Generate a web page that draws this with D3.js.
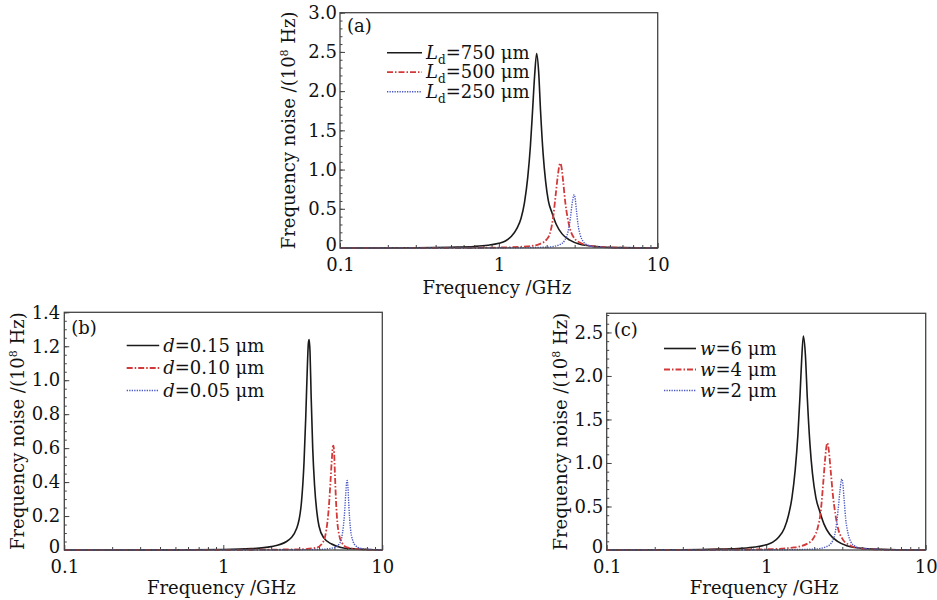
<!DOCTYPE html>
<html>
<head>
<meta charset="utf-8">
<title>Frequency noise spectra</title>
<script src="https://d3js.org/d3.v7.min.js"></script>
<style>
  body { margin: 0; background: #fff; }
  text { font-family: "DejaVu Serif", "Liberation Serif", serif; fill: #111; }
  .frame { fill: none; stroke: #444; stroke-width: 1.3; }
  .tick line { stroke: #444; }
</style>
</head>
<body>
<svg width="937" height="600"></svg>
<script>
// ---- data: [frequency GHz, noise 1e8 Hz] ----
var ld750 = [[0.1,0],[0.3,0.003],[0.5,0.01],[0.7,0.02],[0.85,0.035],[1.0,0.06],[1.1,0.09],[1.2,0.15],[1.3,0.25],[1.38,0.38],[1.45,0.58],[1.52,0.9],[1.58,1.3],[1.63,1.75],[1.68,2.2],[1.73,2.48],[1.78,2.25],[1.83,1.75],[1.9,1.2],[1.97,0.85],[2.05,0.6],[2.16,0.45],[2.3,0.3],[2.5,0.18],[2.8,0.1],[3.2,0.05],[4,0.02],[6,0.005],[10,0]];
var ld500 = [[0.1,0],[0.5,0.002],[1.0,0.006],[1.5,0.02],[1.8,0.05],[2.0,0.11],[2.1,0.19],[2.2,0.4],[2.28,0.68],[2.35,0.92],[2.41,1.06],[2.44,1.08],[2.48,1.03],[2.54,0.85],[2.62,0.58],[2.7,0.4],[2.8,0.25],[3.0,0.12],[3.3,0.06],[4,0.02],[6,0.003],[10,0]];
var ld250 = [[0.1,0],[1.0,0.002],[2.0,0.01],[2.4,0.04],[2.6,0.1],[2.72,0.2],[2.82,0.38],[2.9,0.58],[2.95,0.66],[2.98,0.68],[3.02,0.64],[3.08,0.48],[3.15,0.3],[3.25,0.17],[3.4,0.08],[3.6,0.04],[4,0.015],[6,0.002],[10,0]];

var d015 = [[0.1,0],[0.5,0.001],[1.0,0.003],[1.5,0.008],[2.0,0.02],[2.5,0.05],[2.9,0.13],[3.1,0.28],[3.22,0.52],[3.3,0.78],[3.37,1.05],[3.43,1.22],[3.47,1.24],[3.51,1.17],[3.57,0.9],[3.65,0.6],[3.75,0.38],[3.88,0.22],[4.0,0.14],[4.3,0.07],[4.8,0.035],[5.5,0.015],[6.5,0.007],[8,0.003],[10,0]];
var d010 = [[0.1,0],[1.0,0.001],[3.0,0.004],[3.8,0.012],[4.2,0.04],[4.45,0.12],[4.6,0.24],[4.72,0.4],[4.82,0.54],[4.89,0.61],[4.93,0.615],[4.98,0.57],[5.04,0.44],[5.12,0.28],[5.22,0.16],[5.35,0.09],[5.6,0.04],[6,0.015],[7,0.005],[10,0]];
var d005 = [[0.1,0],[2.0,0.001],[4.0,0.003],[5.0,0.015],[5.4,0.04],[5.62,0.1],[5.77,0.2],[5.9,0.34],[5.97,0.4],[6.02,0.41],[6.08,0.37],[6.17,0.25],[6.3,0.13],[6.5,0.06],[6.8,0.025],[7.5,0.008],[10,0]];

var w6 = [[0.1,0],[0.3,0.003],[0.5,0.01],[0.7,0.02],[0.85,0.035],[1.0,0.06],[1.1,0.09],[1.2,0.15],[1.3,0.25],[1.38,0.4],[1.45,0.6],[1.52,0.92],[1.58,1.32],[1.63,1.78],[1.67,2.2],[1.71,2.46],[1.76,2.25],[1.81,1.75],[1.88,1.22],[1.95,0.88],[2.05,0.6],[2.16,0.45],[2.3,0.3],[2.5,0.18],[2.8,0.1],[3.2,0.05],[4,0.02],[6,0.005],[10,0]];
var w4 = [[0.1,0],[0.5,0.003],[1.0,0.008],[1.5,0.03],[1.8,0.07],[2.0,0.15],[2.1,0.25],[2.2,0.45],[2.28,0.78],[2.35,1.08],[2.39,1.2],[2.42,1.23],[2.47,1.14],[2.54,0.9],[2.62,0.63],[2.71,0.42],[2.82,0.25],[3.0,0.13],[3.3,0.06],[3.7,0.025],[4.5,0.008],[6,0.002],[10,0]];
var w2 = [[0.1,0],[1.0,0.002],[2.0,0.01],[2.4,0.04],[2.6,0.1],[2.72,0.22],[2.82,0.45],[2.9,0.68],[2.95,0.79],[2.98,0.815],[3.02,0.77],[3.08,0.58],[3.15,0.36],[3.25,0.2],[3.4,0.09],[3.6,0.045],[4,0.018],[6,0.003],[10,0]];

var yTicksA = [0, 0.5, 1.0, 1.5, 2.0, 2.5, 3.0];
var yTicksB = [0, 0.2, 0.4, 0.6, 0.8, 1.0, 1.2, 1.4];
var yTicksC = [0, 0.5, 1.0, 1.5, 2.0, 2.5];
var xTicks = [0.1, 1, 10];

var legendA = [["L", "d", "=750 μm"], ["L", "d", "=500 μm"], ["L", "d", "=250 μm"]];
var legendB = [["d", "", "=0.15 μm"], ["d", "", "=0.10 μm"], ["d", "", "=0.05 μm"]];
var legendC = [["w", "", "=6 μm"], ["w", "", "=4 μm"], ["w", "", "=2 μm"]];

// line styles for the three series in every panel
var styles = [
  { color: "#1a1a1a", width: 1.6, dash: null },
  { color: "#d23a3a", width: 1.8, dash: "6,2,1.5,2" },
  { color: "#4a58c4", width: 1.4, dash: "1.3,1.2" }
];

var panels = [
  { name: "(a)", series: [ld750, ld500, ld250], yMax: 3.0, yTicks: yTicksA, yMinor: 0.1,
    left: 340, right: 657.7, top: 12.7, bottom: 248,
    xPad: 10, yPad: 3, xLabelY: 294, yLabelOff: 45,
    legend: legendA, legX: 387, legY: 52.7, legDy: 19.5, legW: 35, tagY: 32 },
  { name: "(b)", series: [d015, d010, d005], yMax: 1.4, yTicks: yTicksB, yMinor: 0.05,
    left: 64.3, right: 382.3, top: 312.3, bottom: 550,
    xPad: 10, yPad: 4, xLabelY: 594, yLabelOff: 40,
    legend: legendB, legX: 126.7, legY: 345.5, legDy: 22.5, legW: 32.5, tagY: 334 },
  { name: "(c)", series: [w6, w4, w2], yMax: 2.72, yTicks: yTicksC, yMinor: 0.1,
    left: 606.7, right: 925.7, top: 313.3, bottom: 550,
    xPad: 10, yPad: 3.5, xLabelY: 594, yLabelOff: 40,
    legend: legendC, legX: 664, legY: 348.5, legDy: 21, legW: 32, tagY: 336 }
];

var svg = d3.select("svg");
var fs = 18;
var fmt1 = d3.format(".1f");

panels.forEach(function(p) {
  var x = d3.scaleLog().domain([0.1, 10]).range([p.left, p.right]);
  var y = d3.scaleLinear().domain([0, p.yMax]).range([p.bottom, p.top]);
  var g = svg.append("g");

  // minor x ticks (2..9 in each decade)
  var minorX = [];
  [0.1, 1].forEach(function(dec) { for (var k = 2; k <= 9; k++) minorX.push(dec * k); });
  g.append("g")
    .attr("transform", "translate(0," + p.bottom + ")")
    .call(d3.axisBottom(x).tickValues(minorX).tickSize(-3).tickFormat(""))
    .call(function(s) { s.select(".domain").remove(); });

  // minor y ticks
  var minorY = d3.range(0, p.yMax + 1e-9, p.yMinor);
  g.append("g")
    .attr("transform", "translate(" + p.left + ",0)")
    .call(d3.axisLeft(y).tickValues(minorY).tickSize(-2.5).tickFormat(""))
    .call(function(s) { s.select(".domain").remove(); });

  // major axes
  var xa = g.append("g")
    .attr("transform", "translate(0," + p.bottom + ")")
    .call(d3.axisBottom(x).tickValues(xTicks).tickSize(-5).tickPadding(p.xPad)
      .tickFormat(function(d) { return d < 1 ? "0.1" : String(d); }));
  var ya = g.append("g")
    .attr("transform", "translate(" + p.left + ",0)")
    .call(d3.axisLeft(y).tickValues(p.yTicks).tickSize(-5).tickPadding(p.yPad)
      .tickFormat(function(d) { return d === 0 ? "0" : fmt1(d); }));
  [xa, ya].forEach(function(a) {
    a.select(".domain").remove();
    a.selectAll("text").style("font-family", "DejaVu Serif, serif").style("font-size", fs + "px").attr("fill", "#111");
  });
  // keep the "0" label a little higher so it clears "0.1"
  ya.selectAll(".tick text").filter(function(d) { return d === 0; }).attr("dy", "0.12em");

  // curves
  var line = d3.line()
    .x(function(d) { return x(d[0]); })
    .y(function(d) { return y(d[1]); })
    .curve(d3.curveMonotoneX);

  p.series.forEach(function(s, i) {
    var st = styles[i];
    g.append("path")
      .datum(s)
      .attr("d", line)
      .attr("fill", "none")
      .attr("stroke", st.color)
      .attr("stroke-width", st.width)
      .attr("stroke-dasharray", st.dash);
  });

  // frame
  g.append("rect").attr("class", "frame")
    .attr("x", p.left).attr("y", p.top)
    .attr("width", p.right - p.left).attr("height", p.bottom - p.top);

  // panel tag
  g.append("text").attr("x", p.left + 7).attr("y", p.tagY)
    .style("font-size", fs + "px").text(p.name);

  // legend
  p.legend.forEach(function(item, i) {
    var ly = p.legY + i * p.legDy;
    var st = styles[i];
    g.append("line")
      .attr("x1", p.legX).attr("x2", p.legX + p.legW)
      .attr("y1", ly).attr("y2", ly)
      .attr("stroke", st.color).attr("stroke-width", st.width)
      .attr("stroke-dasharray", st.dash);
    var t = g.append("text").attr("x", p.legX + p.legW + 4).attr("y", ly + 6)
      .style("font-size", fs + "px");
    t.append("tspan").style("font-style", "italic").text(item[0]);
    if (item[1]) {
      t.append("tspan").attr("dy", 5).style("font-size", "12px").text(item[1]);
      t.append("tspan").attr("dy", -5).text(item[2]);
    } else {
      t.append("tspan").text(item[2]);
    }
  });

  // axis titles
  g.append("text")
    .attr("x", (p.left + p.right) / 2 - 2).attr("y", p.xLabelY)
    .attr("text-anchor", "middle").style("font-size", fs + "px")
    .text("Frequency /GHz");

  var yl = g.append("text")
    .attr("transform", "translate(" + (p.left - p.yLabelOff) + "," + ((p.top + p.bottom) / 2) + ") rotate(-90)")
    .attr("text-anchor", "middle").style("font-size", fs + "px");
  yl.append("tspan").text("Frequency noise /(10");
  yl.append("tspan").attr("dy", -7).style("font-size", "11px").text("8");
  yl.append("tspan").attr("dy", 7).text(" Hz)");
});
</script>
</body>
</html>
